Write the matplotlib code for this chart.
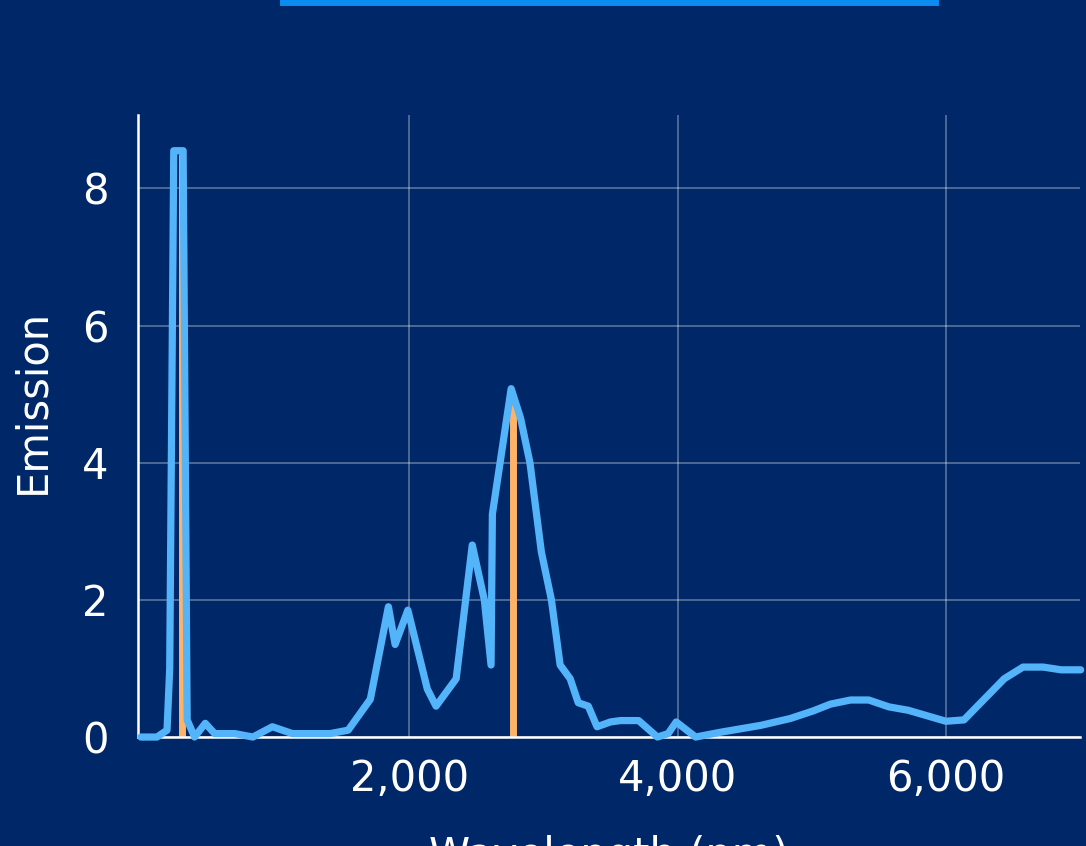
import numpy as np
import matplotlib.pyplot as plt
from matplotlib.lines import Line2D

# Spectrum
wavelength = [0, 120, 195, 215, 245, 315, 345, 400, 480, 550, 700, 835, 980,
              1130, 1410, 1545, 1710, 1845, 1895, 1990, 2135, 2200, 2350, 2470,
              2560, 2610, 2620, 2760, 2830, 2900, 2985, 3060, 3125, 3200, 3260,
              3335, 3400, 3500, 3575, 3710, 3850, 3930, 3990, 4135, 4320, 4620,
              4840, 5010, 5140, 5290, 5425, 5575, 5720, 6000, 6135, 6300, 6435,
              6575, 6725, 6860, 7005]
emission = [0.0, 0.0, 0.1, 1.0, 8.55, 8.55, 0.25, 0.0, 0.2, 0.05, 0.05, 0.0,
            0.15, 0.05, 0.05, 0.1, 0.55, 1.9, 1.35, 1.85, 0.7, 0.45, 0.85, 2.8,
            2.0, 1.05, 3.25, 5.08, 4.65, 4.0, 2.7, 2.0, 1.05, 0.85, 0.5, 0.45,
            0.15, 0.22, 0.24, 0.24, 0.0, 0.05, 0.22, 0.0, 0.07, 0.17, 0.27,
            0.38, 0.48, 0.54, 0.54, 0.44, 0.39, 0.23, 0.25, 0.58, 0.85, 1.02,
            1.02, 0.98, 0.98]

# marked peaks
peak_wl = [305, 2773]
peak_em = [8.5, 4.95]

bg = '#002868'
fg = 'white'

plt.rcParams['font.family'] = ['DejaVu Sans']

fig = plt.figure(figsize=(10.86, 8.46), dpi=100, facecolor=bg)
ax = fig.add_axes([0.127, 0.1288, 0.8675, 0.7352], facecolor=bg)

ax.vlines(peak_wl, 0, peak_em, color='#ffb366', lw=5, zorder=2)
ax.plot(wavelength, emission, color='#54b4fa', lw=5.2,
        solid_capstyle='round', solid_joinstyle='round', zorder=3, clip_on=False)

ax.set_xlim(-22, 7000)
ax.set_ylim(0, 9.07)
ax.set_xticks([2000, 4000, 6000])
ax.set_xticklabels(['2,000', '4,000', '6,000'])
ax.set_yticks([0, 2, 4, 6, 8])

ax.grid(True, color='white', alpha=0.3, lw=1.4)
ax.set_axisbelow(True)
for s in ['top', 'right']:
    ax.spines[s].set_visible(False)
for s in ['left', 'bottom']:
    ax.spines[s].set_color(fg)
    ax.spines[s].set_linewidth(1.8)

ax.tick_params(length=0, labelsize=30, colors=fg)
ax.tick_params(axis='y', pad=21)
ax.tick_params(axis='x', pad=15)
ax.set_xlabel('Wavelength (nm)', fontsize=30, color=fg, labelpad=25)
ax.set_ylabel('Emission', fontsize=30, color=fg, va='center')
ax.yaxis.set_label_coords(-0.112, 0.54)

# bar at the top edge
fig.add_artist(Line2D([0.2606, 0.861], [0.9975, 0.9975], color='#0a8cf0', lw=5,
                      transform=fig.transFigure))

fig.savefig('out.png', dpi=100, facecolor=bg)
